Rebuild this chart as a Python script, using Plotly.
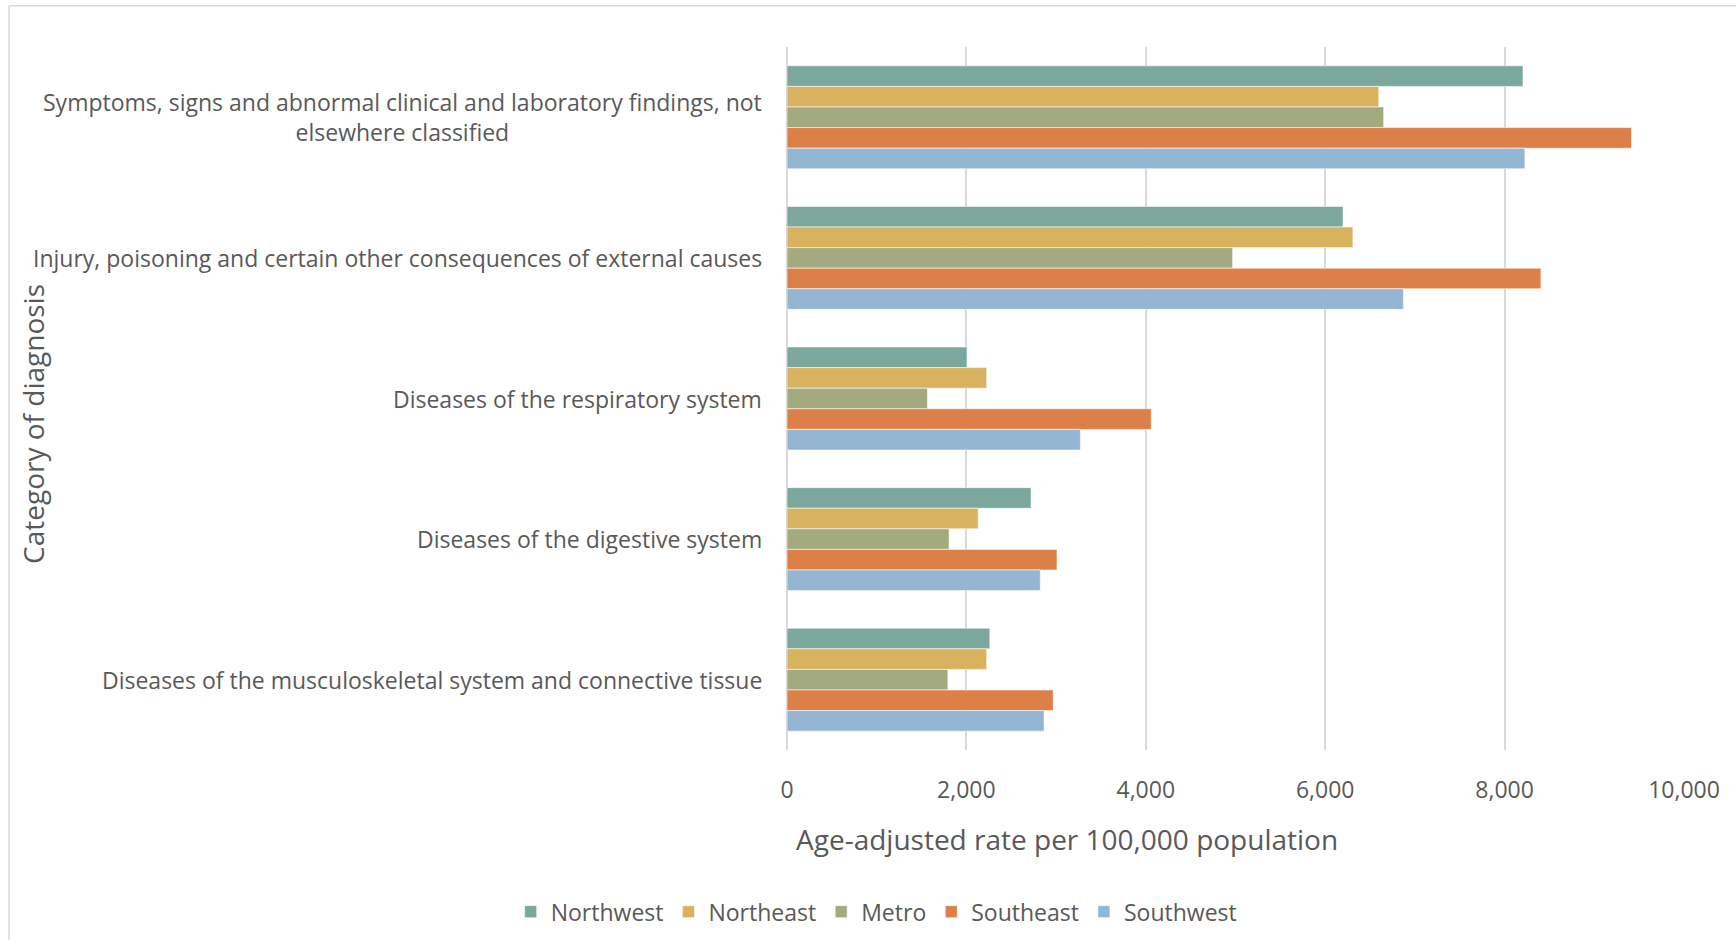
import plotly.graph_objects as go

categories = [
    "Symptoms, signs and abnormal clinical and laboratory findings, not<br>elsewhere classified",
    "Injury, poisoning and certain other consequences of external causes",
    "Diseases of the respiratory system",
    "Diseases of the digestive system",
    "Diseases of the musculoskeletal system and connective tissue",
]
series_names = ["Northwest", "Northeast", "Metro", "Southeast", "Southwest"]
northwest = [8205, 6199, 2007, 2721, 2261]
northeast = [6597, 6309, 2226, 2131, 2226]
metro = [6652, 4968, 1566, 1807, 1794]
southeast = [9415, 8405, 4061, 3010, 2968]
southwest = [8226, 6872, 3271, 2824, 2866]
x_ticks = [0, 2000, 4000, 6000, 8000, 10000]
x_tick_labels = ["0", "2,000", "4,000", "6,000", "8,000", "10,000"]

colors = ["#7BA79D", "#D8B25E", "#A4AA80", "#DD8047", "#94B6D2"]
values = [northwest, northeast, metro, southeast, southwest]

FONT = "Open Sans"
TXT = "#595959"

fig = go.Figure()
for name, vals, col in zip(series_names, values, colors):
    fig.add_trace(go.Bar(
        y=categories, x=vals, name=name, orientation="h",
        marker=dict(color=col, line=dict(color="rgba(255,255,255,0.55)", width=1)),
    ))

annotations = []
for cat in categories:
    annotations.append(dict(
        x=-0.026, xref="paper", y=cat, yref="y", text=cat,
        xanchor="right", yanchor="middle", align="center", showarrow=False,
        font=dict(family=FONT, size=23, color=TXT),
    ))
annotations.append(dict(
    x=0.312, xref="paper", y=-0.127, yref="paper",
    text="Age-adjusted rate per 100,000 population",
    xanchor="center", yanchor="middle", showarrow=False,
    font=dict(family=FONT, size=28, color=TXT),
))
annotations.append(dict(
    x=-0.8406, xref="paper", y=0.4638, yref="paper",
    text="Category of diagnosis", textangle=-90,
    xanchor="center", yanchor="middle", showarrow=False,
    font=dict(family=FONT, size=28, color=TXT),
))

shapes = [
    dict(type="line", xref="paper", yref="paper", x0=-0.8673, x1=-0.8673, y0=1.0586, y1=-0.27,
         line=dict(color="#d9d9d9", width=1.5)),
    dict(type="line", xref="paper", yref="paper", x0=-0.8673, x1=1.07, y0=1.0586, y1=1.0586,
         line=dict(color="#d9d9d9", width=1.5)),
]

fig.update_layout(
    width=1736, height=945,
    margin=dict(l=787, r=52, t=47, b=188, pad=0),
    paper_bgcolor="white", plot_bgcolor="white",
    barmode="group", bargap=0.268, bargroupgap=0,
    font=dict(family=FONT, color=TXT),
    xaxis=dict(
        range=[0, 10000], tickvals=x_ticks, ticktext=x_tick_labels,
        showgrid=True, gridcolor="#d9d9d9", gridwidth=1.5,
        zeroline=True, zerolinecolor="#d9d9d9", zerolinewidth=1.5,
        showline=False, ticks="", tickfont=dict(family=FONT, size=23, color=TXT),
        ticklabelstandoff=24,
    ),
    yaxis=dict(
        autorange="reversed", showticklabels=False, showgrid=False,
        zeroline=False, showline=False, ticks="",
    ),
    legend=dict(
        orientation="h", x=0.1, xanchor="center", y=-0.230, yanchor="middle",
        font=dict(family=FONT, size=23, color=TXT), itemwidth=30,
        traceorder="normal", bgcolor="rgba(0,0,0,0)",
    ),
    annotations=annotations, shapes=shapes,
)

fig.write_html("out.html", config={"displayModeBar": False},
               post_script="document.body.style.margin='0px';")
